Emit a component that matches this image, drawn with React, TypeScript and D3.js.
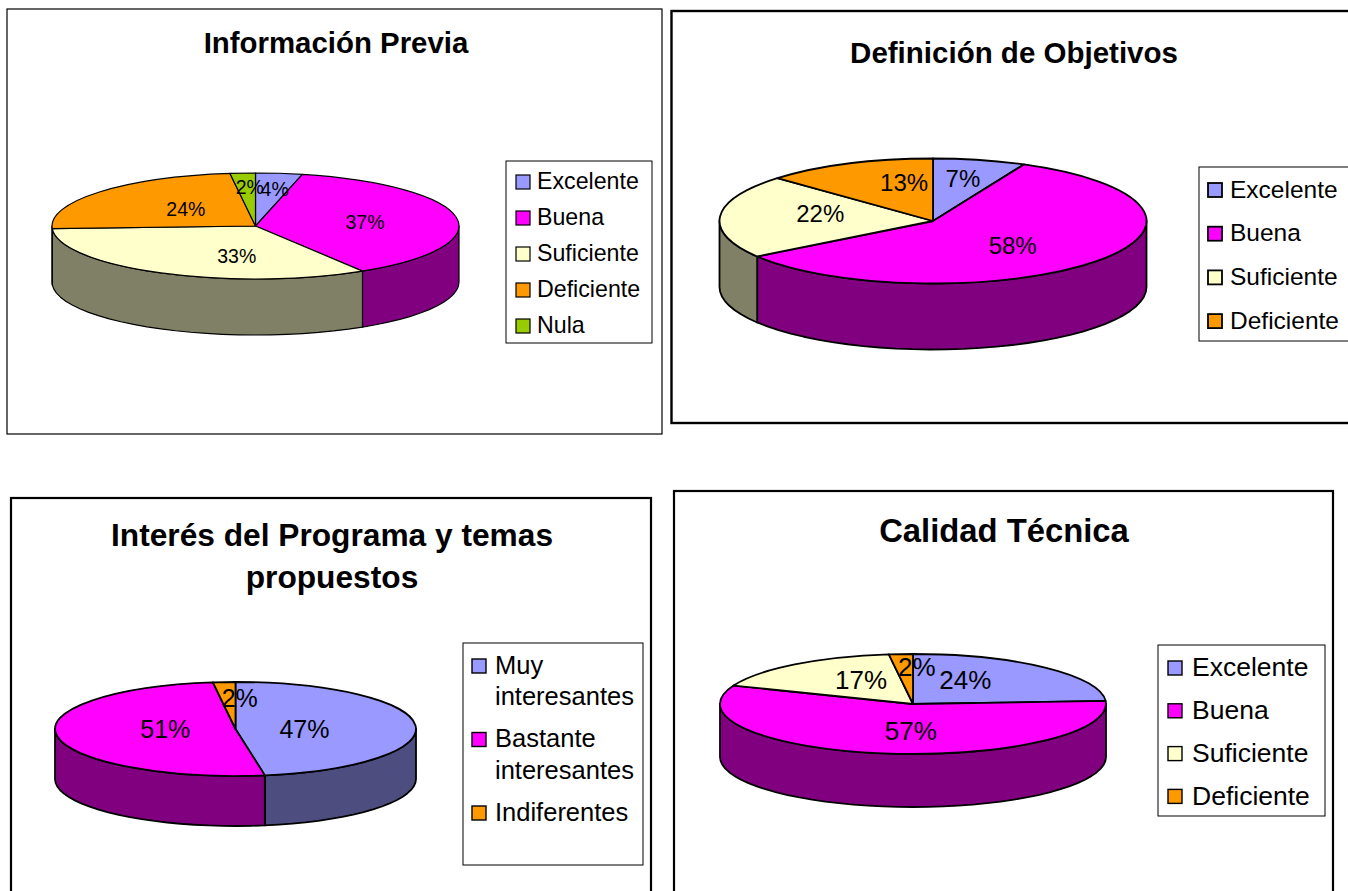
import React from "react";
import { pie, arc, line, range } from "d3";

const FONT = "'Liberation Sans', Arial, sans-serif";

// legend names
const gradeNames = ["Excelente", "Buena", "Suficiente", "Deficiente", "Nula"];

// values, in percent (labels show them rounded)
const infoValues = [3.7, 37.49, 33, 23.81, 2];
const objetivosValues = [7, 58.4, 21.6, 13];
const interesValues = [47.4, 50.6, 2];
const calidadValues = [24, 57, 17, 2];

const sliceColors = ["#9999FF", "#FF00FF", "#FFFFCC", "#FF9900", "#99CC00"];
const sideColors = ["#4D4D80", "#800080", "#808066", "#804D00", "#4D6600"];

// one layout per chart, label nudges are relative to the arc centroid
const charts = [
  {
    title: ["Información Previa"],
    titleSize: 29.4,
    titleX: 336,
    titleY: [43],
    values: infoValues,
    colorIndex: [0, 1, 2, 3, 4],
    names: gradeNames.map((n) => [n]),
    frame: [7, 9, 655, 425],
    frameWidth: 1.2,
    cx: 255.5, cy: 226, rx: 203.5, ry: 53, depth: 56,
    strokeWidth: 1.2,
    labelSize: 19.5,
    nudge: [[5, -5], [-11, 1], [38, 2], [24, 4], [2, -7]],
    legend: { x: 506, y: 161, w: 146, h: 182, swatchX: 516, textX: 537, firstY: 181, step: 36, lineStep: 0, size: 23.2, sw: 1.2 },
  },
  {
    title: ["Definición de Objetivos"],
    titleSize: 29.5,
    titleX: 1014,
    titleY: [53],
    values: objetivosValues,
    colorIndex: [0, 1, 2, 3],
    names: gradeNames.slice(0, 4).map((n) => [n]),
    frame: [671.5, 11, 700, 412],
    frameWidth: 2.4,
    cx: 933, cy: 221, rx: 213.5, ry: 62.5, depth: 66,
    strokeWidth: 1.8,
    labelSize: 24,
    nudge: [[2, -6], [-18, 0], [15, -5], [22, -4]],
    legend: { x: 1199, y: 167, w: 170, h: 174, swatchX: 1208, textX: 1230, firstY: 189, step: 43.7, lineStep: 0, size: 24.5, sw: 1.8 },
  },
  {
    title: ["Interés del Programa y temas", "propuestos"],
    titleSize: 31.7,
    titleX: 332,
    titleY: [535, 577],
    values: interesValues,
    colorIndex: [0, 1, 3],
    names: [["Muy", "interesantes"], ["Bastante", "interesantes"], ["Indiferentes"]],
    frame: [11, 498, 640, 440],
    frameWidth: 2.2,
    cx: 235.5, cy: 729, rx: 180.5, ry: 47, depth: 50,
    strokeWidth: 1.8,
    labelSize: 25,
    nudge: [[-39, 3], [37, -4], [11, -3]],
    legend: { x: 463, y: 643, w: 180, h: 222, swatchX: 472, textX: 495, firstY: 665, step: 42, lineStep: 31.5, size: 25.5, sw: 1.4 },
  },
  {
    title: ["Calidad Técnica"],
    titleSize: 32.8,
    titleX: 1004,
    titleY: [531],
    values: calidadValues,
    colorIndex: [0, 1, 2, 3],
    names: gradeNames.slice(0, 4).map((n) => [n]),
    frame: [674, 491, 659, 440],
    frameWidth: 2.2,
    cx: 913, cy: 704, rx: 193, ry: 50, depth: 53,
    strokeWidth: 1.8,
    labelSize: 26,
    nudge: [[-27, -2], [16, -3], [19, 0], [11, -7]],
    legend: { x: 1158, y: 645, w: 167, h: 171, swatchX: 1168, textX: 1192, firstY: 667, step: 42.8, lineStep: 0, size: 26.5, sw: 1.4 },
  },
];

const pieLayout = pie<number>().sort(null);
const edge = line<[number, number]>();

function Pie3D({ chart }) {
  const { cx, cy, rx, ry, depth, values, colorIndex, strokeWidth, labelSize, nudge } = chart;
  const slices = pieLayout(values);
  const topArc = arc().innerRadius(0).outerRadius(rx);
  const labelArc = arc().innerRadius(rx * 0.6).outerRadius(rx * 0.6);
  const squash = ry / rx;

  // the wall only shows on the front half of the ellipse
  const wall = (a0: number, a1: number) => {
    const from = Math.max(a0, Math.PI / 2);
    const to = Math.min(a1, Math.PI * 1.5);
    if (to <= from) return null;
    const count = Math.ceil((to - from) / 0.08);
    const angles = range(count + 1).map((i) => from + ((to - from) * i) / count);
    const rim = angles.map((a) => [cx + rx * Math.sin(a), cy - ry * Math.cos(a)] as [number, number]);
    const base = rim.map(([x, y]) => [x, y + depth] as [number, number]).reverse();
    return edge([...rim, ...base]) + "Z";
  };

  return (
    <g>
      {slices.map((s, i) => {
        const d = wall(s.startAngle, s.endAngle);
        return d ? <path key={i} d={d} fill={sideColors[colorIndex[i]]} stroke="#000" strokeWidth={strokeWidth} strokeLinejoin="round" /> : null;
      })}
      <g transform={`translate(${cx},${cy}) scale(1,${squash})`}>
        {slices.map((s, i) => (
          <path
            key={i}
            d={topArc(s as any) as string}
            fill={sliceColors[colorIndex[i]]}
            stroke="#000"
            strokeWidth={strokeWidth}
            strokeLinejoin="round"
            vectorEffect="non-scaling-stroke"
          />
        ))}
      </g>
      {slices.map((s, i) => {
        const [lx, ly] = labelArc.centroid(s as any);
        return (
          <text
            key={i}
            x={cx + lx + nudge[i][0]}
            y={cy + ly * squash + nudge[i][1]}
            dy="0.35em"
            textAnchor="middle"
            fontSize={labelSize}
            fill="#000"
          >
            {Math.round(values[i])}%
          </text>
        );
      })}
    </g>
  );
}

function Legend({ chart }) {
  const { x, y, w, h, swatchX, textX, firstY, step, lineStep, size, sw } = chart.legend;
  let cursor = firstY;
  const rows = chart.names.map((lines: string[], i: number) => {
    const top = cursor;
    cursor += (lines.length - 1) * lineStep + step;
    return (
      <g key={i}>
        <rect x={swatchX} y={top - 6} width={14} height={14} fill={sliceColors[chart.colorIndex[i]]} stroke="#000" strokeWidth={sw} />
        {lines.map((t, j) => (
          <text key={j} x={textX} y={top + j * lineStep} dy="0.35em" fontSize={size} fill="#000">
            {t}
          </text>
        ))}
      </g>
    );
  });
  return (
    <g>
      <rect x={x} y={y} width={w} height={h} fill="#fff" stroke="#000" strokeWidth={1} />
      {rows}
    </g>
  );
}

export default function App() {
  return (
    <svg
      width={1348}
      height={891}
      style={{ position: "absolute", left: 0, top: 0, display: "block", background: "#fff" }}
      fontFamily={FONT}
    >
      {charts.map((c, i) => (
        <g key={i}>
          <rect x={c.frame[0]} y={c.frame[1]} width={c.frame[2]} height={c.frame[3]} fill="#fff" stroke="#000" strokeWidth={c.frameWidth} />
          {c.title.map((t, j) => (
            <text key={j} x={c.titleX} y={c.titleY[j]} dy="0.35em" textAnchor="middle" fontSize={c.titleSize} fontWeight="bold" fill="#000">
              {t}
            </text>
          ))}
          <Pie3D chart={c} />
          <Legend chart={c} />
        </g>
      ))}
    </svg>
  );
}
